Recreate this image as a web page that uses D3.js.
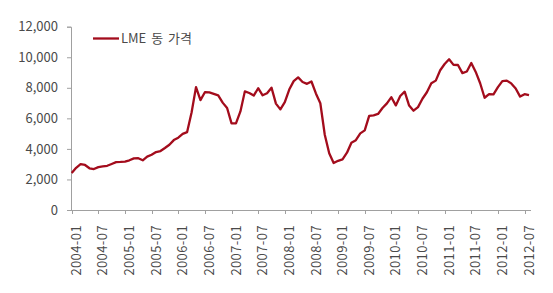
<!DOCTYPE html>
<html>
<head>
<meta charset="utf-8">
<script src="https://cdn.jsdelivr.net/npm/d3@7"></script>
<style>
  body { margin: 0; background: #fff; }
  svg text { font-family: "Noto Sans CJK KR", "Noto Sans", sans-serif; fill: #4a4a4a; }
</style>
</head>
<body>
<div id="container"></div>
<script>
// LME copper price, monthly (USD/t)
var p2004 = [2423, 2760, 3003, 2949, 2732, 2681, 2808, 2859, 2894, 3011, 3134, 3144];
var p2005 = [3170, 3254, 3380, 3391, 3252, 3495, 3615, 3795, 3858, 4059, 4270, 4577];
var p2006 = [4734, 4982, 5102, 6387, 8046, 7197, 7712, 7695, 7602, 7500, 7029, 6675];
var p2007 = [5670, 5676, 6452, 7766, 7662, 7492, 7972, 7511, 7648, 8008, 6967, 6588];
var p2008 = [7061, 7888, 8439, 8685, 8383, 8260, 8414, 7633, 6990, 4926, 3717, 3072];
var p2009 = [3221, 3315, 3750, 4407, 4569, 5015, 5216, 6165, 6196, 6288, 6676, 6982];
var p2010 = [7386, 6848, 7463, 7745, 6838, 6500, 6735, 7284, 7709, 8292, 8470, 9147];
var p2011 = [9556, 9868, 9503, 9493, 8959, 9067, 9620, 9040, 8300, 7350, 7581, 7566];
var p2012 = [8040, 8441, 8471, 8289, 7956, 7423, 7584, 7515];

var tickLabels = ["2004-01", "2004-07", "2005-01", "2005-07", "2006-01", "2006-07",
  "2007-01", "2007-07", "2008-01", "2008-07", "2009-01", "2009-07", "2010-01",
  "2010-07", "2011-01", "2011-07", "2012-01", "2012-07"];
var yTicks = [0, 2000, 4000, 6000, 8000, 10000, 12000];
var seriesName = "LME 동 가격";

var prices = [].concat(p2004, p2005, p2006, p2007, p2008, p2009, p2010, p2011, p2012);

var width = 553, height = 293;

var svg = d3.select("#container").append("svg")
  .attr("width", width)
  .attr("height", height);

var x = d3.scaleLinear().domain([0, prices.length - 1]).range([71.7, 529]);
var y = d3.scaleLinear().domain([0, 12000]).range([210, 26.7]);

// y axis
var yAxis = svg.append("g")
  .attr("transform", "translate(71,0)")
  .call(d3.axisLeft(y).tickValues(yTicks).tickSize(4).tickPadding(8).tickFormat(d3.format(",")));
yAxis.select(".domain").attr("stroke", "#a0a0a0");
yAxis.selectAll(".tick line").attr("stroke", "#a0a0a0");
yAxis.selectAll("text").style("font-size", "13px").attr("dx", "-1");

// x axis (ticks every 6 months)
var xg = svg.append("g");
xg.append("line")
  .attr("x1", 71).attr("x2", 531)
  .attr("y1", 210.5).attr("y2", 210.5)
  .attr("stroke", "#a0a0a0");
xg.selectAll(".xt")
  .data(tickLabels)
  .enter()
  .append("line")
  .attr("class", "xt")
  .attr("x1", function(d, i) { return Math.round(x(i * 6)) + 0.5; })
  .attr("x2", function(d, i) { return Math.round(x(i * 6)) + 0.5; })
  .attr("y1", 210).attr("y2", 214)
  .attr("stroke", "#a0a0a0");
xg.selectAll(".xl")
  .data(tickLabels)
  .enter()
  .append("text")
  .attr("class", "xl")
  .attr("transform", function(d, i) { return "translate(" + (x(i * 6) + 4.5) + ",225) rotate(-90)"; })
  .attr("text-anchor", "end")
  .attr("dy", "0.35em")
  .style("font-size", "13px")
  .style("letter-spacing", "0.4px")
  .text(function(d) { return d; });

// price line
var line = d3.line()
  .x(function(d, i) { return x(i); })
  .y(function(d) { return y(d); });

svg.append("path")
  .datum(prices)
  .attr("fill", "none")
  .attr("stroke", "#a30c1c")
  .attr("stroke-width", 2.3)
  .attr("stroke-linejoin", "round")
  .attr("d", line);

// legend
svg.append("line")
  .attr("x1", 93).attr("x2", 119)
  .attr("y1", 38.5).attr("y2", 38.5)
  .attr("stroke", "#a30c1c")
  .attr("stroke-width", 2.3);
svg.append("text")
  .attr("x", 121)
  .attr("y", 38.5)
  .attr("dy", "0.35em")
  .style("font-size", "13px")
  .style("word-spacing", "2px")
  .text(seriesName);
</script>
</body>
</html>
